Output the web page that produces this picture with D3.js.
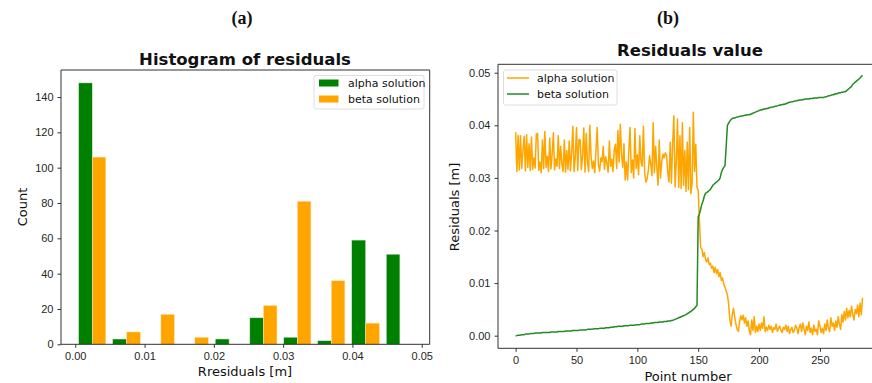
<!DOCTYPE html>
<html>
<head>
<meta charset="utf-8">
<script src="https://cdn.jsdelivr.net/npm/d3@7"></script>
<style>
  body{margin:0;background:#fff;}
  svg{display:block;font-family:"DejaVu Sans",sans-serif;}
  .tick text{fill:#262626;font-size:11px;}
  .tick line,.domain{stroke:#333;}
</style>
</head>
<body>
<script>
// histogram (a)
const binEdges=[0.0000,0.0049,0.0099,0.0148,0.0197,0.0247,0.0296,0.0345,0.0394,0.0444,0.0493]
const alphaCounts=[148,3,0,0,3,15,4,2,59,51]
const betaCounts=[106,7,17,4,0,22,81,36,12,0]
const histXTicks=[0.00,0.01,0.02,0.03,0.04,0.05]
const histYTicks=[0,20,40,60,80,100,120,140]

// residuals value (b)
const alphaResiduals=[
.0387,.0312,.0381,.0315,.0380,.0318,.0352,.0379,.0313,.0382,
.0320,.0365,.0314,.0378,.0316,.0338,.0319,.0383,.0385,.0314,
.0330,.0310,.0372,.0318,.0388,.0320,.0341,.0312,.0376,.0317,
.0345,.0386,.0315,.0336,.0322,.0380,.0318,.0360,.0326,.0312,
.0372,.0311,.0352,.0316,.0370,.0313,.0348,.0398,.0312,.0340,
.0396,.0314,.0373,.0372,.0316,.0342,.0395,.0311,.0385,.0330,
.0312,.0400,.0340,.0318,.0332,.0310,.0352,.0396,.0325,.0313,
.0338,.0331,.0360,.0316,.0340,.0328,.0311,.0370,.0322,.0336,
.0312,.0354,.0364,.0318,.0390,.0330,.0402,.0345,.0320,.0365,
.0296,.0330,.0296,.0352,.0396,.0310,.0334,.0300,.0394,.0318,
.0344,.0306,.0380,.0330,.0322,.0398,.0310,.0292,.0298,.0314,
.0342,.0326,.0304,.0405,.0310,.0360,.0320,.0286,.0372,.0300,
.0330,.0345,.0338,.0348,.0342,.0310,.0292,.0368,.0290,.0366,
.0418,.0283,.0330,.0412,.0282,.0380,.0280,.0405,.0286,.0352,
.0274,.0368,.0278,.0396,.0270,.0290,.0425,.0312,.0364,.0282,
.0276,.0218,
.0168,.0164,.0150,.0158,.0145,.0140,.0148,.0135,.0138,.0128,
.0132,.0120,.0130,.0118,.0126,.0112,.0120,.0105,.0110,.0098,
.0092,.0085,.0078,.0060,.0030,.0018,.0040,.0052,.0035,.0022,
.0012,.0008,.0026,.0038,.0030,.0039,.0024,.0034,.0018,.0028,
.0008,.0002,.0030,.0010,.0036,.0006,.0018,.0008,.0022,.0010,
.0024,.0014,.0036,.0008,.0016,.0010,.0020,.0012,.0018,.0006,
.0015,.0012,.0022,.0008,.0014,.0018,.0010,.0006,.0016,.0012,
.0020,.0008,.0018,.0004,.0012,.0016,.0006,.0010,.0020,.0014,
.0004,.0016,.0022,.0008,.0024,.0012,.0002,.0018,.0010,.0026,
.0006,.0014,.0002,.0020,.0008,.0012,.0002,.0028,.0018,.0006,
.0014,.0004,.0022,.0010,.0030,.0014,.0008,.0034,.0018,.0024,
.0010,.0028,.0016,.0036,.0022,.0012,.0040,.0026,.0046,.0030,
.0052,.0034,.0048,.0036,.0056,.0040,.0030,.0050,.0042,.0058,
.0036,.0062,.0040,.0072]
const betaResiduals=[
.0000,.0000,.0001,.0001,.0001,.0002,.0002,.0002,.0003,.0003,
.0003,.0003,.0004,.0004,.0004,.0004,.0005,.0005,.0005,.0005,
.0005,.0005,.0006,.0006,.0006,.0006,.0006,.0006,.0006,.0007,
.0007,.0007,.0007,.0007,.0007,.0008,.0008,.0008,.0008,.0008,
.0008,.0009,.0009,.0009,.0009,.0009,.0009,.0010,.0010,.0010,
.0010,.0010,.0010,.0011,.0011,.0011,.0011,.0011,.0011,.0012,
.0012,.0012,.0012,.0012,.0013,.0013,.0013,.0013,.0013,.0014,
.0014,.0014,.0014,.0014,.0015,.0015,.0015,.0015,.0016,.0016,
.0016,.0017,.0017,.0017,.0018,.0018,.0018,.0018,.0018,.0019,
.0019,.0019,.0019,.0019,.0020,.0020,.0020,.0020,.0020,.0021,
.0021,.0021,.0021,.0022,.0022,.0022,.0022,.0023,.0023,.0023,
.0023,.0024,.0024,.0024,.0025,.0025,.0025,.0025,.0026,.0026,
.0026,.0026,.0027,.0027,.0027,.0028,.0028,.0028,.0029,.0029,
.0030,.0031,.0032,.0033,.0034,.0035,.0036,.0037,.0038,.0039,
.0040,.0042,.0043,.0045,.0046,.0048,.0050,.0052,.0055,.0058,
.0226,.0232,.0240,.0250,.0256,.0265,.0271,.0272,.0274,.0276,
.0278,.0282,.0286,.0288,.0290,.0292,.0294,.0296,.0300,.0310,
.0316,.0320,.0323,.0360,.0400,.0404,.0408,.0411,.0413,.0414,
.0414,.0415,.0416,.0416,.0417,.0417,.0418,.0418,.0419,.0419,
.0420,.0420,.0420,.0421,.0422,.0423,.0424,.0425,.0426,.0427,
.0428,.0429,.0429,.0430,.0431,.0431,.0432,.0432,.0433,.0434,
.0434,.0435,.0435,.0436,.0436,.0437,.0438,.0438,.0439,.0439,
.0440,.0440,.0441,.0442,.0443,.0444,.0444,.0445,.0445,.0446,
.0446,.0447,.0447,.0448,.0448,.0448,.0449,.0449,.0450,.0450,
.0450,.0450,.0451,.0451,.0451,.0452,.0452,.0452,.0452,.0453,
.0453,.0453,.0453,.0453,.0454,.0454,.0455,.0456,.0456,.0457,
.0458,.0458,.0459,.0460,.0460,.0461,.0462,.0462,.0463,.0463,
.0464,.0464,.0466,.0468,.0470,.0472,.0474,.0478,.0480,.0482,
.0484,.0486,.0488,.0490,.0493,.0495]
const lineXTicks=[0,50,100,150,200,250]
const lineYTicks=[0.00,0.01,0.02,0.03,0.04,0.05]

const GREEN='#008000'
const ORANGE='#FFA500'
const LINEGREEN='#228B22'

const svg=d3.select('body').append('svg')
    .attr('width',872)
    .attr('height',383)

const addText=(x,y,txt,opts={})=>{
    const t=svg.append('text')
        .attr('x',x).attr('y',y)
        .attr('text-anchor',opts.anchor||'middle')
        .attr('dominant-baseline','central')
        .style('font-size',(opts.size||13)+'px')
        .style('fill','#111')
        .text(txt)
    if(opts.bold) t.style('font-weight','bold')
    if(opts.family) t.style('font-family',opts.family)
    if(opts.rotate) t.attr('transform',`rotate(-90,${x},${y})`)
    return t
}

const frame=(g,x0,x1,y0,y1,noRight)=>{
    const p=noRight
        ? `M${x1},${y0}H${x0}V${y1}H${x1}`
        : `M${x0},${y0}H${x1}V${y1}H${x0}Z`
    g.append('path').attr('d',p).attr('fill','none').attr('stroke','#333').attr('stroke-width',1)
}

// ---- panel a
const histogram=()=>{
    const left=61, right=429.7, top=70, bottom=344.3
    const x=d3.scaleLinear().domain([-0.00206,0.05115]).range([left,right])
    const y=d3.scaleLinear().domain([0,155.3]).range([bottom,top])
    const g=svg.append('g')

    binEdges.slice(0,-1).forEach((b0,i)=>{
        const w=binEdges[i+1]-b0
        g.append('rect')
            .attr('x',x(b0+0.1*w)).attr('width',x(b0+0.5*w)-x(b0+0.1*w))
            .attr('y',y(alphaCounts[i])).attr('height',y(0)-y(alphaCounts[i]))
            .attr('fill',GREEN).attr('stroke','#cfe8cf').attr('stroke-width',0.5)
        g.append('rect')
            .attr('x',x(b0+0.5*w)).attr('width',x(b0+0.9*w)-x(b0+0.5*w))
            .attr('y',y(betaCounts[i])).attr('height',y(0)-y(betaCounts[i]))
            .attr('fill',ORANGE).attr('stroke','#ffe8c0').attr('stroke-width',0.5)
    })

    g.append('g').attr('transform',`translate(0,${bottom})`)
        .call(d3.axisBottom(x).tickValues(histXTicks).tickFormat(d3.format('.2f')).tickSize(3.5).tickPadding(4))
        .call(a=>a.select('.domain').remove())
    g.append('g').attr('transform',`translate(${left},0)`)
        .call(d3.axisLeft(y).tickValues(histYTicks).tickFormat(d3.format('d')).tickSize(3.5).tickPadding(4))
        .call(a=>a.select('.domain').remove())
    frame(g,left,right,top,bottom)

    // legend
    g.append('rect').attr('x',314).attr('y',75.5).attr('width',110).attr('height',33.5).attr('rx',2)
        .attr('fill','#fff').attr('stroke','#d6d6d6').attr('stroke-width',0.8)
    g.append('rect').attr('x',319).attr('y',79.5).attr('width',19.5).attr('height',7).attr('fill',GREEN)
    g.append('rect').attr('x',319).attr('y',95.5).attr('width',19.5).attr('height',7).attr('fill',ORANGE)
    addText(348,83.5,'alpha solution',{anchor:'start',size:11})
    addText(348,99,'beta solution',{anchor:'start',size:11})

    addText(245,59,'Histogram of residuals',{bold:true,size:16.5})
    addText(22.5,207,'Count',{rotate:true})
    addText(245,371.5,'Rresiduals [m]')
    addText(242,18,'(a)',{bold:true,size:18,family:'"Liberation Serif",serif'})
}

// ---- panel b
const residualLines=()=>{
    const left=498, right=886, top=64.3, bottom=348.3
    const x=d3.scaleLinear().domain([-14.5,304.3]).range([left,right])
    const y=d3.scaleLinear().domain([-0.0024,0.0516]).range([bottom,top])
    const g=svg.append('g')
    const line=d3.line().x((d,i)=>x(i)).y(d=>y(d))

    g.append('path').datum(alphaResiduals).attr('d',line)
        .attr('fill','none').attr('stroke',ORANGE).attr('stroke-width',1.5).attr('stroke-linejoin','round')
    g.append('path').datum(betaResiduals).attr('d',line)
        .attr('fill','none').attr('stroke',LINEGREEN).attr('stroke-width',1.5).attr('stroke-linejoin','round')

    g.append('g').attr('transform',`translate(0,${bottom})`)
        .call(d3.axisBottom(x).tickValues(lineXTicks).tickFormat(d3.format('d')).tickSize(3.5).tickPadding(4))
        .call(a=>a.select('.domain').remove())
    g.append('g').attr('transform',`translate(${left},0)`)
        .call(d3.axisLeft(y).tickValues(lineYTicks).tickFormat(d3.format('.2f')).tickSize(3.5).tickPadding(4))
        .call(a=>a.select('.domain').remove())
    frame(g,left,right,top,bottom,true)

    // legend
    g.append('rect').attr('x',503.5).attr('y',70).attr('width',113.5).attr('height',35).attr('rx',2)
        .attr('fill','#fff').attr('stroke','#d6d6d6').attr('stroke-width',0.8)
    g.append('line').attr('x1',507).attr('x2',529).attr('y1',78).attr('y2',78).attr('stroke',ORANGE).attr('stroke-width',1.5)
    g.append('line').attr('x1',507).attr('x2',529).attr('y1',94).attr('y2',94).attr('stroke',LINEGREEN).attr('stroke-width',1.5)
    addText(537,78,'alpha solution',{anchor:'start',size:11})
    addText(537,94,'beta solution',{anchor:'start',size:11})

    addText(690,50,'Residuals value',{bold:true,size:16.5})
    addText(454,207,'Residuals [m]',{rotate:true})
    addText(688,376,'Point number')
    addText(668,18,'(b)',{bold:true,size:18,family:'"Liberation Serif",serif'})
}

histogram()
residualLines()
</script>
</body>
</html>
